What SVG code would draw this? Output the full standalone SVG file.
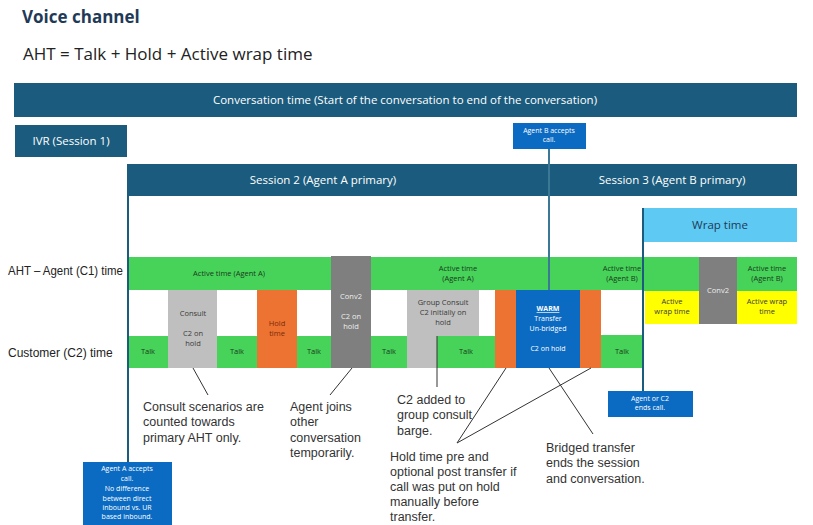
<svg xmlns="http://www.w3.org/2000/svg" width="813" height="525" viewBox="0 0 813 525">
<style>
text{font-family:"Open Sans","Liberation Sans",sans-serif}
.navy{fill:#1b5c7e}
.bar{font-size:11.5px;fill:#ffffff;text-anchor:middle}
.green{fill:#47d35a}
.orange{fill:#ec7331}
.lgrey{fill:#bfbfbf}
.dgrey{fill:#7f7f7f}
.blue{fill:#0b6bc2}
.yellow{fill:#ffff00}
.s{font-size:7.5px;fill:#1a3a1a;text-anchor:middle}
.sg{font-size:7.5px;fill:#3a3a3a;text-anchor:middle}
.sw{font-size:7.5px;fill:#eeeeee;text-anchor:middle}
.sb{font-size:7px;fill:#ffffff;text-anchor:middle}
.note{font-family:"Liberation Sans",Arial,sans-serif;font-size:12.5px;fill:#333333}
.lbl{font-family:"Liberation Sans",Arial,sans-serif;font-size:12px;fill:#222222}
.conn{stroke:#333333;stroke-width:1;fill:none}
.vline{stroke:#1b5c7e;stroke-width:2;fill:none}
</style>
<text x="22" y="23" font-size="17" font-weight="bold" fill="#1f3a57">Voice channel</text>
<text x="23" y="60" font-size="17" fill="#222222">AHT = Talk + Hold + Active wrap time</text>

<g id="conversation-time">
<rect x="14" y="83" width="783" height="34" class="navy"/>
<text x="405" y="104" class="bar">Conversation time (Start of the conversation to end of the conversation)</text>
</g>
<g id="ivr">
<rect x="15" y="125" width="112" height="32" class="navy"/>
<text x="71" y="145" class="bar">IVR (Session 1)</text>
</g>
<g id="sessions">
<rect x="128" y="164" width="669" height="32" class="navy"/>
<text x="323" y="184" class="bar">Session 2 (Agent A primary)</text>
<text x="672" y="184" class="bar">Session 3 (Agent B primary)</text>
</g>
<g id="wrap-time">
<rect x="642" y="208" width="155" height="34" fill="#5ec9f2"/>
<text x="720" y="229" font-size="11.5" fill="#1f3a57" text-anchor="middle">Wrap time</text>
</g>

<g id="agent-row">
<rect x="128" y="257" width="203" height="33" class="green"/>
<text x="229" y="276" class="s">Active time (Agent A)</text>
<rect x="371" y="257" width="272" height="33" class="green"/>
<text x="458" y="271" class="s">Active time</text>
<text x="458" y="281" class="s">(Agent A)</text>
<text x="622" y="271" class="s">Active time</text>
<text x="622" y="281" class="s">(Agent B)</text>
<rect x="643" y="257" width="56" height="34" class="green"/>
<rect x="737" y="257" width="60" height="34" class="green"/>
<text x="767" y="271" class="s">Active time</text>
<text x="767" y="281" class="s">(Agent B)</text>
</g>
<g id="wrap-row">
<rect x="645" y="291" width="54" height="33" class="yellow"/>
<text x="672" y="304" class="sg">Active</text>
<text x="672" y="314" class="sg">wrap time</text>
<rect x="699" y="257" width="38" height="67" class="dgrey"/>
<text x="718" y="293" class="sw">Conv2</text>
<rect x="737" y="291" width="60" height="33" class="yellow"/>
<text x="767" y="304" class="sg">Active wrap</text>
<text x="767" y="314" class="sg">time</text>
</g>
<g id="customer-row">
<rect x="128" y="336" width="40" height="32" class="green"/>
<text x="148" y="354" class="s">Talk</text>
<rect x="168" y="290" width="49" height="78" class="lgrey"/>
<text x="193" y="316" class="sg">Consult</text>
<text x="193" y="336" class="sg">C2 on</text>
<text x="193" y="346" class="sg">hold</text>
<rect x="217" y="336" width="40" height="32" class="green"/>
<text x="237" y="354" class="s">Talk</text>
<rect x="257" y="290" width="40" height="78" class="orange"/>
<text x="277" y="326" class="s" style="fill:#7a2a0a">Hold</text>
<text x="277" y="336" class="s" style="fill:#7a2a0a">time</text>
<rect x="297" y="336" width="34" height="32" class="green"/>
<text x="314" y="354" class="s">Talk</text>
<rect x="331" y="256" width="40" height="112" class="dgrey"/>
<text x="351" y="299" class="sw">Conv2</text>
<text x="351" y="319" class="sw">C2 on</text>
<text x="351" y="329" class="sw">hold</text>
<rect x="371" y="336" width="36" height="32" class="green"/>
<text x="389" y="354" class="s">Talk</text>
<path d="M407 290H479V336H437V368H407Z" class="lgrey"/>
<text x="443" y="305" class="sg">Group Consult</text>
<text x="443" y="315" class="sg">C2 initially on</text>
<text x="443" y="325" class="sg">hold</text>
<rect x="437" y="336" width="58" height="32" class="green"/>
<text x="466" y="354" class="s">Talk</text>
<rect x="495" y="290" width="21" height="78" class="orange"/>
<rect x="516" y="290" width="64" height="78" class="blue"/>
<text x="548" y="311" class="sb" font-weight="bold" text-decoration="underline">WARM</text>
<text x="548" y="321" class="sb">Transfer</text>
<text x="548" y="331" class="sb">Un-bridged</text>
<text x="548" y="351" class="sb">C2 on hold</text>
<rect x="580" y="290" width="21" height="78" class="orange"/>
<rect x="601" y="335" width="42" height="33" class="green"/>
<text x="622" y="354" class="s">Talk</text>
</g>

<g id="connectors">
<line x1="128" y1="164" x2="128" y2="462" class="vline"/>
<line x1="549" y1="149" x2="549" y2="290" stroke="#3a7896" stroke-width="2"/>
<line x1="643" y1="208" x2="643" y2="391" class="vline"/>
<line x1="193" y1="368" x2="208" y2="395" class="conn"/>
<line x1="352" y1="368" x2="330" y2="395" class="conn"/>
<line x1="437" y1="336" x2="437" y2="387" class="conn"/>
<line x1="457" y1="443" x2="506" y2="368" class="conn"/>
<line x1="457" y1="443" x2="591" y2="368" class="conn"/>
<line x1="549" y1="368" x2="593" y2="434" class="conn"/>
</g>

<text x="8" y="275" class="lbl" textLength="115" lengthAdjust="spacingAndGlyphs">AHT – Agent (C1) time</text>
<text x="8" y="357" class="lbl">Customer (C2)  time</text>

<g id="agent-b-accepts">
<rect x="513" y="123" width="73" height="26" class="blue"/>
<text x="549" y="133" class="sb">Agent B accepts</text>
<text x="549" y="142" class="sb">call.</text>
</g>
<g id="agent-or-c2-ends">
<rect x="608" y="391" width="85" height="26" class="blue"/>
<text x="650" y="401" class="sb">Agent or C2</text>
<text x="650" y="410" class="sb">ends call.</text>
</g>
<g id="agent-a-accepts">
<rect x="83" y="462" width="89" height="63" class="blue"/>
<text x="127" y="471" class="sb">Agent  A accepts</text>
<text x="127" y="481" class="sb">call.</text>
<text x="127" y="491" class="sb">No difference</text>
<text x="127" y="501" class="sb">between direct</text>
<text x="127" y="510" class="sb">inbound vs. UR</text>
<text x="127" y="519" class="sb">based inbound.</text>
</g>

<g id="note-consult">
<text x="143" y="411" class="note">Consult scenarios are</text>
<text x="143" y="426" class="note">counted towards</text>
<text x="143" y="442" class="note">primary AHT only.</text>
</g>
<g id="note-agent-joins">
<text x="290" y="411" class="note">Agent joins</text>
<text x="290" y="426" class="note">other</text>
<text x="290" y="442" class="note">conversation</text>
<text x="290" y="457" class="note">temporarily.</text>
</g>
<g id="note-c2-added">
<text x="397" y="404" class="note">C2 added to</text>
<text x="397" y="419" class="note">group consult</text>
<text x="397" y="435" class="note">barge.</text>
</g>
<g id="note-hold">
<text x="390" y="461" class="note">Hold time pre and</text>
<text x="390" y="476" class="note">optional post transfer if</text>
<text x="390" y="491" class="note">call was put on hold</text>
<text x="390" y="506" class="note">manually before</text>
<text x="390" y="521" class="note">transfer.</text>
</g>
<g id="note-bridged">
<text x="546" y="452" class="note">Bridged transfer</text>
<text x="546" y="467" class="note">ends the session</text>
<text x="546" y="483" class="note">and conversation.</text>
</g>
</svg>
